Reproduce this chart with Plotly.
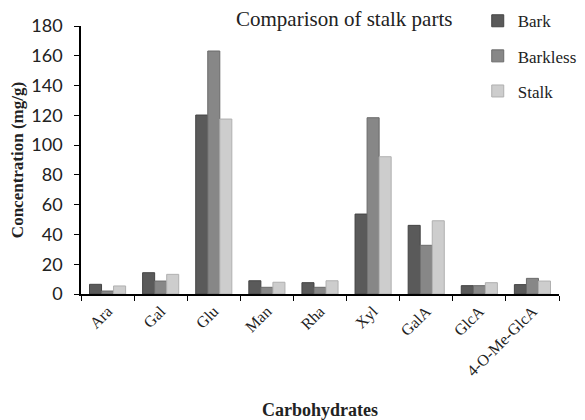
import plotly.graph_objects as go

categories = ["Ara", "Gal", "Glu", "Man", "Rha", "Xyl", "GalA", "GlcA", "4-O-Me-GlcA"]
bark = [6.5, 14.3, 120.2, 8.9, 7.6, 53.7, 46.1, 5.6, 6.3]
barkless = [2.0, 8.7, 163.2, 4.5, 4.5, 118.4, 32.7, 5.6, 10.5]
stalk = [5.4, 13.2, 117.5, 7.9, 8.9, 92.2, 49.2, 7.6, 8.7]

series = [("Bark", bark, "#5a5a5a", "#444444"),
          ("Barkless", barkless, "#878787", "#6a6a6a"),
          ("Stalk", stalk, "#cdcdcd", "#b0b0b0")]

serif = "Liberation Serif, Times New Roman, serif"

fig = go.Figure()
for name, vals, col, lc in series:
    fig.add_trace(go.Bar(x=categories, y=vals, name=name, legendgroup=name,
                         marker=dict(color=col, line=dict(color=lc, width=1))))

fig.update_layout(
    width=585, height=420,
    margin=dict(l=73, r=34, t=18, b=134, autoexpand=False),
    paper_bgcolor="white", plot_bgcolor="white",
    barmode="group", bargap=0.32, bargroupgap=0,
    showlegend=True,
    legend=dict(x=0.83, y=1.085, xanchor="left", yanchor="top",
                font=dict(family=serif, size=17, color="#222"),
                tracegroupgap=10, bgcolor="rgba(0,0,0,0)",
                itemwidth=30),
    annotations=[
        dict(text="Comparison of stalk parts", xref="paper", yref="paper",
             x=0.55, y=1.025, xanchor="center", yanchor="middle", showarrow=False,
             font=dict(family=serif, size=21, color="#222")),
    ],
    xaxis=dict(
        automargin=False,
        showline=True, linecolor="black", linewidth=1.5,
        ticks="outside", tickson="boundaries", ticklen=5, tickcolor="black",
        tickangle=-45,
        tickfont=dict(family=serif, size=16, color="#222"),
        title=dict(text="<b>Carbohydrates</b>", font=dict(family=serif, size=18, color="#222"), standoff=25),
    ),
    yaxis=dict(
        automargin=False,
        range=[0, 180], dtick=20,
        showline=True, linecolor="black", linewidth=1.5,
        ticks="outside", ticklen=5, tickcolor="black", ticklabelstandoff=8,
        showgrid=False, zeroline=False,
        tickfont=dict(family="Lato, Open Sans, sans-serif", size=18, color="#222"),
        title=dict(text="<b>Concentration (mg/g)</b>", font=dict(family=serif, size=17, color="#222"), standoff=3),
    ),
)

fig.write_html("out.html")
